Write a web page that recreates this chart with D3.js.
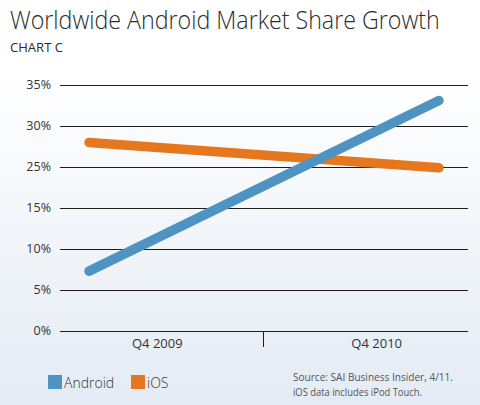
<!DOCTYPE html>
<html><head><meta charset="utf-8">
<script src="https://cdn.jsdelivr.net/npm/d3@7"></script>
<style>html,body{margin:0;padding:0;background:#fff}svg{display:block}</style>
</head><body>
<script>
const categories = ["Q4 2009", "Q4 2010"];
const seriesNames = ["iOS", "Android"];
const iosValues = [28.0, 24.8];
const androidValues = [7.3, 33.1];
const tickValues = [0, 5, 10, 15, 25, 30, 35];
const tickLabels = ["0%", "5%", "10%", "15%", "25%", "30%", "35%"];
const colors = {Android: "#4f93c3", iOS: "#e5781f"};

(function () {
const W = 480, H = 405;
const svg = d3.select("body").append("svg").attr("width", W).attr("height", H);
const defs = svg.append("defs");
const grad = defs.append("linearGradient").attr("id", "bg").attr("x1", 0).attr("y1", 0).attr("x2", 0).attr("y2", 1);
grad.append("stop").attr("offset", "0").attr("stop-color", "#ffffff");
grad.append("stop").attr("offset", "0.18").attr("stop-color", "#ffffff");
grad.append("stop").attr("offset", "1").attr("stop-color", "#e4ebf4");
svg.append("rect").attr("width", W).attr("height", H).attr("fill", "url(#bg)");

const font = "'Open Sans', 'DejaVu Sans', sans-serif";
const title = svg.append("text").attr("x", 0).attr("y", 0).attr("font-family", font).attr("font-weight", 300)
  .attr("font-size", 26).attr("fill", "#2b2b2b")
  .text("Worldwide Android Market Share Growth");
const tlen = title.node().getComputedTextLength() || 430;
title.attr("transform", `translate(10,29) scale(${430 / tlen},1)`);

svg.append("text").attr("x", 10).attr("y", 52).attr("font-family", font)
  .attr("font-size", 12.5).attr("fill", "#2b2b2b").attr("textLength", 53).attr("lengthAdjust", "spacingAndGlyphs")
  .text("CHART C");

const mLeft = 60, mRight = 468, mTop = 85, mBottom = 331;
const y = d3.scaleLinear().domain(tickValues)
  .range(tickValues.map((d, i) => mBottom - i * (mBottom - mTop) / (tickValues.length - 1)));
const x = d3.scalePoint().domain(categories).range([mLeft, mRight]).padding(0.083);
const xLab = d3.scalePoint().domain(categories).range([mLeft, mRight]).padding(0.43);

const g = svg.append("g");
g.selectAll("line.grid").data(tickValues).join("line")
  .attr("x1", mLeft).attr("x2", mRight)
  .attr("y1", d => Math.round(y(d)) + 0.5).attr("y2", d => Math.round(y(d)) + 0.5)
  .attr("stroke", "#1e1e1e").attr("stroke-width", 1);
g.selectAll("text.tick").data(tickValues).join("text")
  .attr("x", 51).attr("y", d => y(d)).attr("dy", "0.35em").attr("text-anchor", "end")
  .attr("font-family", font).attr("font-size", 12.5).attr("fill", "#333")
  .text((d, i) => tickLabels[i]);

svg.append("line").attr("x1", 263.5).attr("x2", 263.5).attr("y1", mBottom).attr("y2", mBottom + 16)
  .attr("stroke", "#1e1e1e");
svg.selectAll("text.cat").data(categories).join("text")
  .attr("x", d => xLab(d) + 3).attr("y", 348).attr("text-anchor", "middle")
  .attr("font-family", font).attr("font-size", 13).attr("fill", "#333").text(d => d);

const line = d3.line().x(d => x(d.c)).y(d => y(d.v));
const series = [
  {name: "iOS", values: iosValues},
  {name: "Android", values: androidValues}
];
svg.selectAll("path.s").data(series).join("path")
  .attr("d", s => line(s.values.map((v, i) => ({c: categories[i], v}))))
  .attr("fill", "none").attr("stroke", s => colors[s.name]).attr("stroke-width", 9.5)
  .attr("stroke-linecap", "round");

const legend = [{name: "Android", x: 48}, {name: "iOS", x: 131}];
const lg = svg.selectAll("g.lg").data(legend).join("g").attr("transform", d => `translate(${d.x},375)`);
lg.append("rect").attr("width", 14).attr("height", 14).attr("fill", d => colors[d.name]);
lg.append("text").attr("x", 16).attr("y", 12.5).attr("font-family", font).attr("font-weight", 300).attr("font-size", 14)
  .attr("fill", "#333").text(d => d.name);

svg.append("text").attr("x", 293).attr("y", 381).attr("font-family", font).attr("font-size", 10)
  .attr("fill", "#555").attr("textLength", 160).attr("lengthAdjust", "spacingAndGlyphs")
  .text("Source: SAI Business Insider, 4/11.");
svg.append("text").attr("x", 293).attr("y", 396).attr("font-family", font).attr("font-size", 10)
  .attr("fill", "#555").attr("textLength", 129).attr("lengthAdjust", "spacingAndGlyphs")
  .text("iOS data includes iPod Touch.");
})();
</script>
</body></html>
